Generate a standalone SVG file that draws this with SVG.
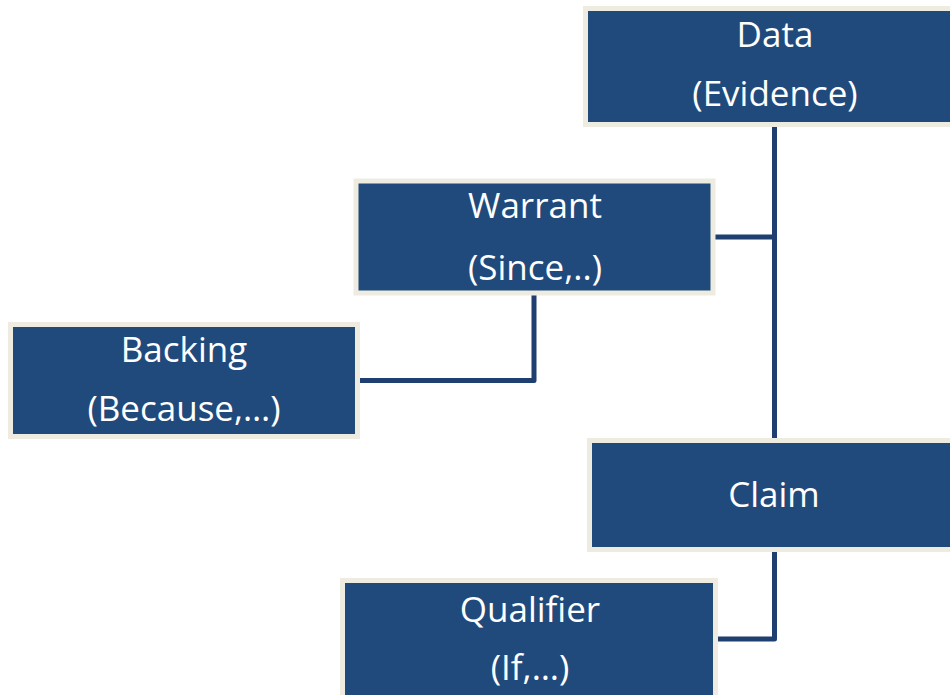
<svg xmlns="http://www.w3.org/2000/svg" width="950" height="695" viewBox="0 0 950 695">
  <style>
    .box { fill: #214A7C; stroke: #EEECE1; stroke-width: 5; }
    .lbl { fill: #FFFFFF; font-family: "Open Sans", "Liberation Sans", sans-serif; font-size: 35px; text-anchor: middle; }
    .conn { fill: none; stroke: #1F3F70; stroke-width: 5; stroke-linejoin: round; }
  </style>
  <rect width="950" height="695" fill="#FFFFFF"/>
  <g id="connectors">
    <path class="conn" d="M774.5,126 V440"/>
    <path class="conn" d="M715,237 H774.5"/>
    <path class="conn" d="M534,295 V380.5 H360"/>
    <path class="conn" d="M774.5,552 V639 H718"/>
  </g>
  <g id="data">
    <rect class="box" x="585.5" y="8.5" width="400" height="116"/>
    <text class="lbl" x="775" y="47">Data</text>
    <text class="lbl" x="775" y="106">(Evidence)</text>
  </g>
  <g id="warrant">
    <rect class="box" x="356" y="181" width="357" height="112"/>
    <text class="lbl" x="535" y="218">Warrant</text>
    <text class="lbl" x="535" y="280">(Since,..)</text>
  </g>
  <g id="backing">
    <rect class="box" x="10.5" y="324.5" width="347" height="112"/>
    <text class="lbl" x="184" y="362">Backing</text>
    <text class="lbl" x="184" y="421">(Because,…)</text>
  </g>
  <g id="claim">
    <rect class="box" x="589.5" y="440.5" width="400" height="109"/>
    <text class="lbl" x="774" y="507">Claim</text>
  </g>
  <g id="qualifier">
    <rect class="box" x="342.5" y="580.5" width="373" height="200"/>
    <text class="lbl" x="530" y="622">Qualifier</text>
    <text class="lbl" x="530" y="680">(If,…)</text>
  </g>
</svg>
